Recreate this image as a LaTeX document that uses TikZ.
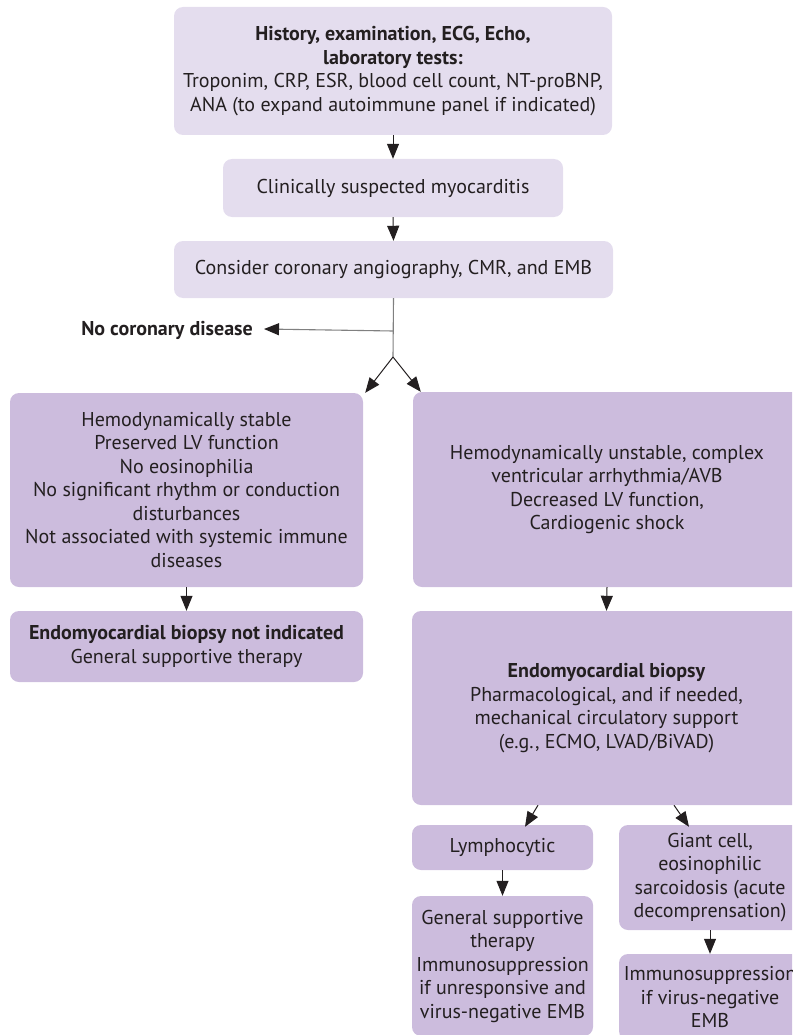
\documentclass[tikz,border=0pt]{standalone}
\usepackage{fontspec}
\setmainfont{PT Sans}
\usetikzlibrary{arrows.meta}
\definecolor{txt}{HTML}{231F20}
\definecolor{light}{HTML}{E4DDEE}
\definecolor{mid}{HTML}{CCBCDD}
\definecolor{linegrey}{HTML}{808080}
\tikzset{
  base/.style={rectangle, rounded corners=9pt, inner sep=0pt, align=center, text=txt,
    font=\fontsize{20}{23.5}\selectfont},
  lbox/.style={base, fill=light},
  mbox/.style={base, fill=mid},
  arr/.style={draw=txt, line width=1pt, -{Triangle[length=15pt,width=12pt]}},
  garr/.style={draw=linegrey, line width=1.1pt, -{Triangle[length=15pt,width=12pt,color=txt]}},
  gline/.style={draw=linegrey, line width=1.1pt},
}
\begin{document}
\begin{tikzpicture}[x=1pt,y=-1pt]
\useasboundingbox (0,0) rectangle (792,1035);
\clip (0,0) rectangle (792,1035);
% boxes
\node[lbox, minimum width=438pt, minimum height=128pt] (top) at (393,71)
  {\textbf{History, examination, ECG, Echo,}\\\textbf{laboratory tests:}\\Troponim, CRP, ESR, blood cell count, NT-proBNP,\\ANA (to expand autoimmune panel if indicated)};
\node[lbox, minimum width=340pt, minimum height=58pt] (clin) at (393,188) {Clinically suspected myocarditis};
\node[lbox, minimum width=439pt, minimum height=57pt] (cons) at (393.5,269.5) {Consider coronary angiography, CMR, and EMB};
\node[mbox, minimum width=353pt, minimum height=194pt] (stable) at (186.5,490)
  {Hemodynamically stable\\Preserved LV function\\No eosinophilia\\No significant rhythm or conduction\\disturbances\\Not associated with systemic immune\\diseases};
\node[mbox, minimum width=353pt, minimum height=71pt] (notind) at (186.5,646.5)
  {\textbf{Endomyocardial biopsy not indicated}\\General supportive therapy};
\node[mbox, minimum width=388pt, minimum height=195pt] (unstable) at (607,489.5)
  {Hemodynamically unstable, complex\\ventricular arrhythmia/AVB\\Decreased LV function,\\Cardiogenic shock};
\node[mbox, minimum width=389pt, minimum height=194pt] (emb) at (606.5,708)
  {\textbf{Endomyocardial biopsy}\\Pharmacological, and if needed,\\mechanical circulatory support\\(e.g., ECMO, LVAD/BiVAD)};
\node[mbox, minimum width=181pt, minimum height=45pt] (lymph) at (502.5,847.5) {Lymphocytic};
\node[mbox, minimum width=181pt, minimum height=140pt] (gensup) at (502.5,966)
  {General supportive\\therapy\\Immunosuppression\\if unresponsive and\\virus-negative EMB};
\node[mbox, minimum width=182pt, minimum height=105pt] (giant) at (710,877.5)
  {Giant cell,\\eosinophilic\\sarcoidosis (acute\\decomprensation)};
\node[mbox, minimum width=182pt, minimum height=86pt] (immuno) at (710,997)
  {Immunosuppression\\if virus-negative\\EMB};
\node[text=txt, font=\fontsize{20}{23.5}\selectfont\bfseries, anchor=east, inner sep=0pt] (nocor) at (253,330) {No coronary disease};
% connectors
\coordinate (branch) at (393,331);
\coordinate (apex) at (393,357);
\draw[arr] (top.south) -- (clin.north);
\draw[arr] (clin.south) -- (cons.north);
\draw[gline] (cons.south) -- (apex);
\draw[garr] (branch) -- ([xshift=11pt,yshift=1pt]nocor.east);
\draw[arr] (apex) -- ([xshift=2pt]stable.north east);
\draw[arr] (apex) -- ([xshift=8pt]unstable.north west);
\draw[arr] (stable.south) -- (notind.north);
\draw[arr] (unstable.south) -- (emb.north);
\draw[arr] ([xshift=-68.5pt]emb.south) -- ([xshift=22.5pt,yshift=-2pt]lymph.north);
\draw[arr] ([xshift=67.5pt]emb.south) -- ([xshift=-21pt,yshift=-2pt]giant.north);
\draw[arr] (lymph.south) -- (gensup.north);
\draw[arr] (giant.south) -- (immuno.north);
\end{tikzpicture}
\end{document}
